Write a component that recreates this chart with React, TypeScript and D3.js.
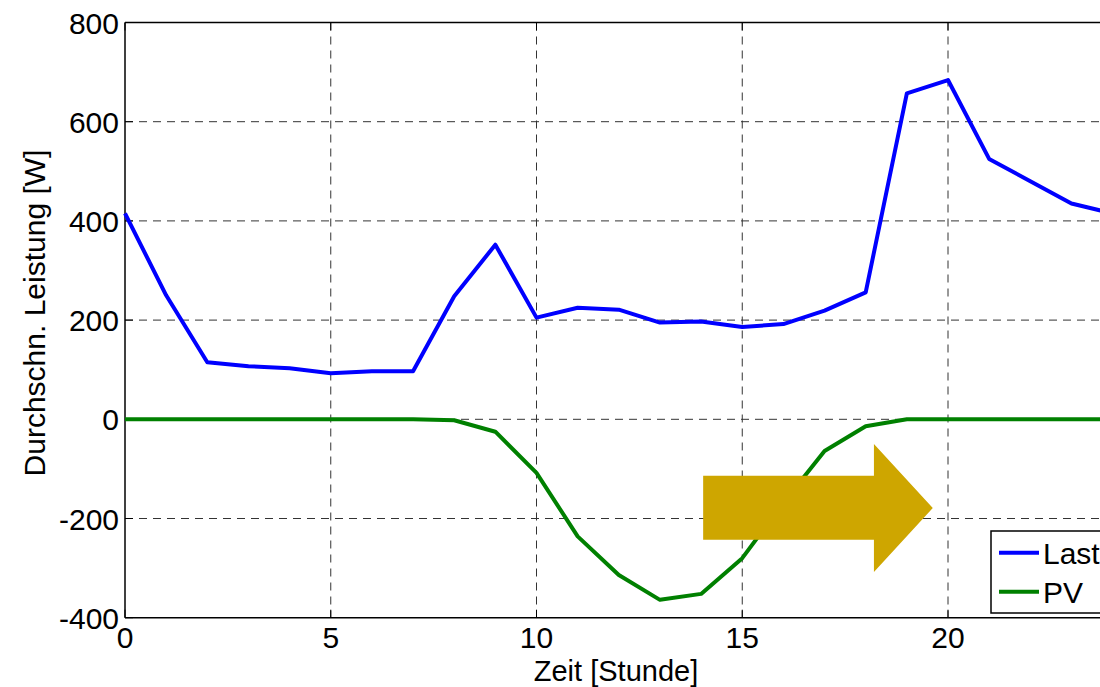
import React from "react";
import * as d3 from "d3";

const hours = d3.range(0, 25);
const lastValues = [415, 250, 115, 107, 103, 93, 97, 97, 248, 352, 205, 225, 221, 195, 197, 186, 192, 219, 256, 657, 684, 525, 480, 435, 415];
const pvValues = [0, 0, 0, 0, 0, 0, 0, 0, -2, -25, -108, -236, -314, -364, -352, -280, -168, -64, -14, 0, 0, 0, 0, 0, 0];
const xTicks = [0, 5, 10, 15, 20];
const yTicks = [-400, -200, 0, 200, 400, 600, 800];
const seriesNames = ["Last", "PV"];
const seriesColors = ["#0000ff", "#008000"];
// arrow annotation in data coordinates: [tailX, headBaseX, tipX], [bodyLow, bodyHigh, headLow, headHigh, tipY]
const arrowX = [14.05, 18.2, 19.63];
const arrowY = [-243, -114, -308, -50, -179];

const W = 1100;
const H = 687;
const FONT = "Arial, 'Liberation Sans', sans-serif";

export default function App() {
  const x = d3.scaleLinear().domain([0, 24]).range([125, 125 + 24 * 41.15]);
  const y = d3.scaleLinear().domain([-400, 800]).range([617.7, 22.5]);
  const line = d3
    .line<number>()
    .x((_, i) => x(hours[i]))
    .y((d) => y(d));
  const series = [lastValues, pvValues];

  const [tx, hb, tip] = arrowX;
  const [bLo, bHi, hLo, hHi, tY] = arrowY;
  const arrowPts = [
    [tx, bHi],
    [hb, bHi],
    [hb, hHi],
    [tip, tY],
    [hb, hLo],
    [hb, bLo],
    [tx, bLo],
  ]
    .map(([a, b]) => `${x(a)},${y(b)}`)
    .join(" ");

  const left = x(0);
  const right = x(24);
  const top = y(800);
  const bottom = y(-400);

  const legendX = 991;
  const legendY = 531;

  return (
    <div style={{ position: "fixed", left: 0, top: 0, width: W, height: H, background: "#fff" }}>
      <svg width={W} height={H} style={{ display: "block" }} fontFamily={FONT}>
        <rect x={0} y={0} width={W} height={H} fill="#fff" />
        {/* grid */}
        {xTicks.filter((t) => t !== 0).map((t) => (
          <line key={"gx" + t} x1={x(t)} x2={x(t)} y1={top} y2={bottom} stroke="#333" strokeWidth={1} strokeDasharray="8,6" />
        ))}
        {yTicks.filter((t) => t !== -400).map((t) => (
          <line key={"gy" + t} x1={left} x2={right} y1={y(t)} y2={y(t)} stroke="#333" strokeWidth={1} strokeDasharray="8,6" />
        ))}
        {/* axes box */}
        <line x1={left} x2={left} y1={top} y2={bottom} stroke="#000" strokeWidth={1.5} />
        <line x1={left} x2={right} y1={bottom} y2={bottom} stroke="#000" strokeWidth={1.5} />
        <line x1={left} x2={right} y1={top} y2={top} stroke="#000" strokeWidth={1.5} />
        <line x1={right} x2={right} y1={top} y2={bottom} stroke="#000" strokeWidth={1.5} />
        {/* tick marks */}
        {xTicks.map((t) => (
          <g key={"tx" + t}>
            <line x1={x(t)} x2={x(t)} y1={bottom} y2={bottom - 8} stroke="#000" strokeWidth={1} />
            <line x1={x(t)} x2={x(t)} y1={top} y2={top + 8} stroke="#000" strokeWidth={1} />
          </g>
        ))}
        {yTicks.map((t) => (
          <line key={"ty" + t} x1={left} x2={left + 8} y1={y(t)} y2={y(t)} stroke="#000" strokeWidth={1} />
        ))}
        {/* tick labels */}
        {xTicks.map((t) => (
          <text key={"lx" + t} x={x(t)} y={648} textAnchor="middle" fontSize={30} fill="#000">
            {t}
          </text>
        ))}
        {yTicks.map((t) => (
          <text key={"ly" + t} x={119} y={y(t) + 11} textAnchor="end" fontSize={30} fill="#000">
            {t}
          </text>
        ))}
        {/* axis labels */}
        <text x={616} y={681} textAnchor="middle" fontSize={29} fill="#000">
          Zeit [Stunde]
        </text>
        <text transform={`translate(45,${313}) rotate(-90)`} textAnchor="middle" fontSize={30} fill="#000">
          Durchschn. Leistung [W]
        </text>
        {/* series */}
        {series.map((s, i) => (
          <path key={"s" + i} d={line(s) || ""} fill="none" stroke={seriesColors[i]} strokeWidth={4} strokeLinejoin="round" />
        ))}
        {/* arrow */}
        <polygon points={arrowPts} fill="#cea600" />
        {/* legend */}
        <rect x={legendX} y={legendY} width={200} height={82} fill="#fff" stroke="#000" strokeWidth={1.5} />
        {seriesNames.map((n, i) => (
          <g key={"lg" + n}>
            <line x1={999} x2={1039} y1={552.7 + i * 39} y2={552.7 + i * 39} stroke={seriesColors[i]} strokeWidth={4} />
            <text x={1043} y={552.7 + i * 39 + 11} fontSize={30} fill="#000">
              {n}
            </text>
          </g>
        ))}
      </svg>
    </div>
  );
}
